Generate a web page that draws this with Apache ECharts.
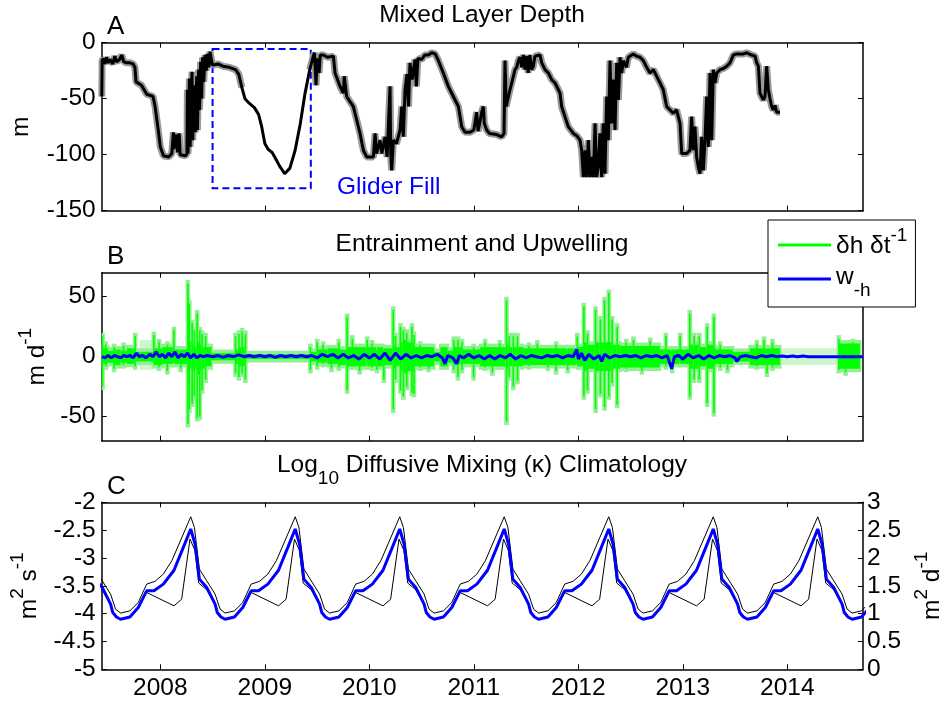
<!DOCTYPE html>
<html><head><meta charset="utf-8">
<script src="https://cdn.jsdelivr.net/npm/echarts@6/dist/echarts.min.js"></script>
<style>html,body{margin:0;padding:0;background:#fff}#c{width:940px;height:702px}</style>
</head><body><div id="c"></div>
<script>
// ---------- shared x axis (decimal years) ----------
const xMin = 2007.439, xMax = 2014.724;
const yearTicks = [2008, 2009, 2010, 2011, 2012, 2013, 2014];

// ---------- Panel A: mixed layer depth (m) ----------
const mldT = [2007.44,2007.443,2007.455,2007.47,2007.485,2007.50,2007.52,2007.545,2007.565,2007.58,2007.61,2007.63,2007.65,2007.68,2007.71,2007.74,2007.757,2007.768,2007.82,2007.87,2007.93,2007.95,2007.98,2008.0,2008.03,2008.08,2008.11,2008.125,2008.13,2008.155,2008.165,2008.18,2008.19,2008.24,2008.255,2008.259,2008.265,2008.278,2008.285,2008.303,2008.31,2008.326,2008.335,2008.348,2008.355,2008.367,2008.375,2008.386,2008.395,2008.405,2008.415,2008.428,2008.44,2008.45,2008.465,2008.476,2008.49,2008.50,2008.55,2008.60,2008.66,2008.72,2008.75,2008.78,2008.81,2008.85,2008.90,2008.94,2008.97,2009.0,2009.03,2009.07,2009.10,2009.14,2009.19,2009.24,2009.29,2009.34,2009.385,2009.43,2009.464,2009.475,2009.49,2009.50,2009.519,2009.53,2009.56,2009.60,2009.656,2009.672,2009.69,2009.72,2009.751,2009.76,2009.783,2009.81,2009.847,2009.879,2009.911,2009.943,2009.975,2010.039,2010.055,2010.07,2010.102,2010.12,2010.15,2010.17,2010.198,2010.205,2010.214,2010.23,2010.26,2010.294,2010.31,2010.325,2010.342,2010.36,2010.375,2010.389,2010.41,2010.437,2010.45,2010.465,2010.501,2010.53,2010.565,2010.597,2010.63,2010.661,2010.708,2010.756,2010.804,2010.852,2010.884,2010.916,2010.964,2011.0,2011.027,2011.04,2011.06,2011.075,2011.091,2011.10,2011.123,2011.15,2011.218,2011.266,2011.289,2011.298,2011.31,2011.346,2011.362,2011.378,2011.394,2011.41,2011.426,2011.442,2011.458,2011.474,2011.49,2011.506,2011.52,2011.537,2011.553,2011.569,2011.585,2011.601,2011.633,2011.65,2011.681,2011.713,2011.745,2011.777,2011.809,2011.825,2011.84,2011.872,2011.904,2011.952,2011.984,2012.016,2012.032,2012.048,2012.064,2012.08,2012.096,2012.112,2012.128,2012.144,2012.16,2012.175,2012.19,2012.207,2012.223,2012.239,2012.255,2012.271,2012.287,2012.303,2012.319,2012.335,2012.351,2012.367,2012.383,2012.399,2012.415,2012.431,2012.46,2012.478,2012.494,2012.526,2012.558,2012.59,2012.622,2012.654,2012.686,2012.718,2012.75,2012.782,2012.813,2012.845,2012.877,2012.909,2012.94,2012.973,2012.989,2013.037,2013.068,2013.084,2013.1,2013.116,2013.132,2013.148,2013.164,2013.18,2013.196,2013.212,2013.228,2013.244,2013.26,2013.276,2013.292,2013.308,2013.324,2013.356,2013.388,2013.42,2013.451,2013.483,2013.515,2013.579,2013.611,2013.659,2013.691,2013.707,2013.723,2013.738,2013.754,2013.77,2013.786,2013.802,2013.818,2013.834,2013.85,2013.866,2013.882,2013.898,2013.914,2013.93];
const mldV = [-48,-16,-14,-19,-13,-18,-15,-19,-12,-17,-15,-11,-17,-18,-18,-19,-22,-35,-38,-46,-48,-57,-78,-93,-101,-102,-99,-80,-95,-82,-98,-81,-100,-101,-99,-42,-99,-32,-93,-26,-87,-38,-80,-30,-78,-24,-60,-17,-50,-13,-35,-11,-25,-10,-22,-8,-16,-20,-19,-21,-22,-24,-28,-40,-50,-54,-58,-64,-75,-90,-95,-98,-103,-110,-117,-112,-96,-72,-45,-24,-12,-9,-38,-14,-27,-11,-11,-13,-12,-27,-27,-39,-45,-30,-48,-52,-57,-69,-81,-96,-102,-102,-81,-99,-87,-99,-84,-102,-39,-100,-114,-87,-90,-78,-57,-84,-42,-28,-57,-18,-33,-15,-39,-14,-15,-11,-11,-9,-10,-16,-27,-39,-48,-57,-75,-80,-80,-78,-62,-79,-70,-62,-57,-72,-78,-81,-82,-84,-81,-16,-57,-42,-36,-30,-24,-22,-16,-13,-22,-11,-24,-12,-27,-11,-24,-21,-12,-11,-11,-18,-24,-27,-33,-36,-42,-45,-57,-66,-75,-81,-83,-87,-96,-120,-96,-120,-87,-120,-102,-120,-72,-120,-111,-81,-120,-72,-117,-48,-87,-16,-72,-33,-78,-18,-51,-13,-27,-16,-22,-13,-12,-10,-12,-13,-16,-22,-27,-24,-30,-36,-42,-57,-60,-63,-60,-72,-99,-99,-96,-66,-96,-75,-102,-111,-117,-84,-114,-87,-48,-93,-27,-87,-24,-36,-27,-24,-23,-21,-18,-11,-10,-10,-9,-11,-12,-18,-21,-45,-48,-51,-48,-21,-42,-50,-57,-60,-56,-62,-62,-62];
const noEnvelopeStart = 2008.78, noEnvelopeEnd = 2009.43;   // glider-filled stretch (no uncertainty band)
const gliderBox = {x0: 2008.50, x1: 2009.44, yTop: -5.6, yBottom: -130};
const gliderLabel = {x: 2009.69, y: -129, text: 'Glider Fill'};

// ---------- Panel B: entrainment (green bars) and upwelling (blue line), m/d ----------
const bT  = [2007.439,2007.452,2007.50,2007.56,2007.62,2007.68,2007.752,2007.762,2007.93,2007.94,2008.02,2008.123,2008.13,2008.187,2008.195,2008.256,2008.263,2008.27,2008.28,2008.297,2008.305,2008.318,2008.326,2008.345,2008.352,2008.37,2008.377,2008.392,2008.40,2008.425,2008.433,2008.49,2008.712,2008.72,2008.744,2008.752,2008.775,2008.783,2008.806,2008.815,2009.428,2009.436,2009.494,2009.502,2009.60,2009.70,2009.78,2009.788,2009.972,2009.98,2010.066,2010.074,2010.131,2010.139,2010.221,2010.228,2010.243,2010.25,2010.29,2010.298,2010.318,2010.326,2010.35,2010.358,2010.40,2010.408,2010.42,2010.428,2010.62,2010.68,2010.75,2010.80,2010.808,2010.84,2010.848,2010.88,2010.888,2010.99,2010.998,2011.06,2011.305,2011.312,2011.33,2011.338,2011.37,2011.378,2011.41,2011.418,2011.47,2011.89,2011.90,2011.982,2011.99,2012.045,2012.052,2012.08,2012.088,2012.157,2012.164,2012.204,2012.211,2012.243,2012.25,2012.284,2012.291,2012.316,2012.323,2012.364,2012.371,2012.40,2012.78,2012.83,2012.838,2012.89,2012.898,2012.967,2012.975,2013.059,2013.066,2013.10,2013.108,2013.15,2013.158,2013.225,2013.232,2013.289,2013.296,2013.30,2013.48,2013.64,2013.797,2013.805,2013.93,2014.485,2014.493];
const bLo = [-25,-6,-5,-7,-5,-6,-8,-4,-6,-7,-6,-5,-6,-10,-6,-56,-20,-44,-10,-39,-12,-33,-10,-51,-15,-50,-12,-28,-10,-19,-8,-3,-14,-6,-17,-8,-14,-8,-19,-2,-11,-4,-8,-5,-6,-7,-28,-8,-5,-8,-11,-8,-19,-7,-44,-10,-19,-8,-28,-12,-33,-14,-25,-12,-30,-12,-31,-8,-4,-8,-5,-11,-6,-17,-6,-11,-6,-17,-6,-8,-54,-10,-17,-8,-25,-8,-20,-8,-7,-11,-7,-6,-8,-33,-12,-28,-10,-44,-12,-31,-12,-42,-12,-33,-12,-22,-10,-40,-10,-9,-6,-8,-6,-11,-6,-5,-6,-33,-10,-19,-10,-19,-8,-39,-10,-47,-8,-6,-4,-7,-14,-7,null,-11,-10];
const bHi = [17,7,5,6,5,7,17,4,18,7,8,22,6,5,6,61,45,44,12,28,10,22,8,36,12,22,10,19,8,17,8,3,17,6,19,8,21,8,19,2,8,4,12,6,7,6,33,8,14,8,5,8,6,7,39,10,17,8,25,12,22,14,20,12,25,12,18,8,4,8,5,14,8,14,8,12,6,8,6,8,47,10,17,8,17,8,17,8,7,6,7,17,8,42,12,19,10,39,12,31,12,47,12,53,12,31,10,25,10,9,6,17,6,5,6,17,6,36,10,17,10,17,8,25,10,33,8,6,4,7,6,7,null,15,11];
const bEnd = 2014.695;
// additional short spikes inside the quieter stretches
const spikeT  = [2007.47,2007.55,2007.64,2007.98,2008.06,2009.55,2009.63,2009.70,2009.83,2009.90,2010.02,2010.48,2010.56,2011.10,2011.17,2011.24,2011.52,2011.60,2011.70,2011.78,2012.45,2012.52,2012.60,2012.68,2013.35,2013.42,2013.70,2013.77,2013.85,2014.55,2014.62];
const spikeLo = [-8,-10,-7,-9,-12,-6,-10,-9,-8,-12,-9,-9,-10,-9,-13,-6,-8,-6,-9,-12,-10,-8,-12,-9,-9,-11,-8,-6,-9,-13,-9];
const spikeHi = [10,8,9,12,10,10,6,12,15,7,11,10,8,12,7,11,9,11,6,10,12,14,7,13,10,6,11,14,12,8,12];
const spikeW = 0.005;
const envT0 = [2007.80, 2013.93], envT1 = [2007.93, 2014.485], envLo = [-11, -7], envHi = [14, 7];
const wT = [2007.44,2007.47,2007.50,2007.53,2007.56,2007.59,2007.62,2007.65,2007.68,2007.71,2007.74,2007.77,2007.80,2007.83,2007.86,2007.90,2007.93,2007.96,2007.99,2008.02,2008.05,2008.08,2008.11,2008.14,2008.17,2008.20,2008.23,2008.26,2008.29,2008.32,2008.35,2008.38,2008.41,2008.45,2008.50,2008.55,2008.60,2008.65,2008.70,2008.75,2008.80,2008.85,2008.90,2008.95,2009.00,2009.05,2009.10,2009.15,2009.20,2009.25,2009.30,2009.35,2009.40,2009.45,2009.50,2009.55,2009.60,2009.65,2009.70,2009.75,2009.80,2009.85,2009.90,2009.95,2010.00,2010.05,2010.10,2010.15,2010.20,2010.25,2010.30,2010.35,2010.40,2010.45,2010.50,2010.55,2010.60,2010.65,2010.70,2010.725,2010.75,2010.80,2010.836,2010.86,2010.90,2010.95,2011.00,2011.05,2011.10,2011.15,2011.20,2011.25,2011.30,2011.35,2011.40,2011.45,2011.50,2011.55,2011.60,2011.65,2011.70,2011.75,2011.80,2011.85,2011.90,2011.95,2011.985,2012.00,2012.03,2012.06,2012.10,2012.15,2012.20,2012.223,2012.25,2012.30,2012.35,2012.40,2012.45,2012.50,2012.55,2012.60,2012.65,2012.70,2012.75,2012.80,2012.85,2012.893,2012.92,2012.96,2013.00,2013.05,2013.10,2013.15,2013.20,2013.25,2013.30,2013.35,2013.40,2013.45,2013.50,2013.515,2013.55,2013.60,2013.65,2013.70,2013.75,2013.80,2013.85,2013.90,2013.95,2014.00,2014.05,2014.10,2014.15,2014.20,2014.724];
const wV = [0,-1,1,-1,1,0,-1,1,0,1,-1,3,0,1,-1,2,0,4,0,2,-1,3,0,4,-1,2,0,3,-1,2,-1,1,0,1,0,1,-0.5,1,0,1.5,0,1,0,1,0,1,-0.5,1,0,1,0,1,0,1,-1,2,0,2,-1,2,-1,1,-2,2,-1,2,-2,3,-3,3,-2,2,-1,1,-1,1,0,2,-1,-6,1,-1,-6,1,-1,2,-1,1,-2,1,-2,1,-1,2,-2,1,-1,1,0,-1,1,0,1,-1,1,0,6,-2,3,-3,2,-2,1,-4,2,-1,1,0,1,0,1,-1,1,0,1,-1,1,-10,0,1,-2,2,-1,1,-2,1,-1,1,0,1,-1,-4,0,1,0,-1,1,0,1,0,0.5,0,0.5,0,0.5,0,0];

// ---------- Panel C: log10 diffusivity climatology (one annual cycle, repeated each year) ----------
const climYears = [2007, 2008, 2009, 2010, 2011, 2012, 2013, 2014];
const kBluePhase  = [0.029,0.131,0.220,0.291,0.332,0.374,0.444,0.524,0.545,0.580,0.620,0.709,0.789,0.869,0.939];
const kBlue       = [-3.47,-3.22,-2.81,-2.48,-2.75,-3.38,-3.53,-3.83,-3.98,-4.06,-4.10,-4.06,-3.89,-3.59,-3.59];
const kUpperPhase = [0.029,0.110,0.220,0.291,0.326,0.374,0.444,0.524,0.572,0.620,0.709,0.789,0.869,0.949];
const kUpper      = [-3.29,-3.05,-2.57,-2.26,-2.45,-3.20,-3.41,-3.65,-3.92,-3.99,-3.95,-3.80,-3.47,-3.42];
const kLowerPhase = [0.131,0.204,0.284,0.332,0.367,0.444,0.524,0.545,0.580,0.620,0.709,0.789,0.869];
const kLower      = [-3.86,-3.74,-2.66,-2.87,-3.45,-3.57,-3.83,-3.98,-4.06,-4.10,-4.06,-3.89,-3.62];

// ---------- build series data ----------
const mldLine = mldT.map((t, i) => [t, mldV[i]]);
const mldEnvelope = mldT.map((t, i) => (t > noEnvelopeStart && t < noEnvelopeEnd) ? [t, null] : [t, mldV[i]]);
const greenItems = [];
for (let i = 0; i < bT.length; i++) {
  if (bLo[i] === null) continue;
  const t1 = i + 1 < bT.length ? bT[i + 1] : bEnd;
  greenItems.push([bT[i], t1, bLo[i], bHi[i]]);
}
spikeT.forEach((t, i) => greenItems.push([t, t + spikeW, spikeLo[i], spikeHi[i]]));
const envItems = envT0.map((t, i) => [t, envT1[i], envLo[i], envHi[i]]);
const wLine = wT.map((t, i) => [t, wV[i]]);
function tile(phase, vals) {
  const out = [];
  climYears.forEach(y => phase.forEach((p, i) => out.push([y + p, vals[i]])));
  return out;
}

const FONT = 'Liberation Sans, Arial, Helvetica, sans-serif';
const FS = 24.5;
const grids = [
  {left: 101.7, top: 42.7, width: 761.3, height: 168},
  {left: 101.7, top: 272.7, width: 761.3, height: 168},
  {left: 101.7, top: 502.3, width: 761.3, height: 167}
];
const lineCol = '#000';
function baseAxis(extra) {
  return Object.assign({
    axisLine: {show: true, onZero: false, lineStyle: {color: lineCol, width: 1.5}},
    splitLine: {show: false},
    nameTextStyle: {color: '#000', fontFamily: FONT, fontSize: FS},
  }, extra);
}
const xAxes = [], yAxes = [];
for (let g = 0; g < 3; g++) {
  xAxes.push(baseAxis({type: 'value', gridIndex: g, position: 'bottom', min: xMin, max: xMax,
    axisTick: {show: true, inside: true, length: 5, customValues: yearTicks, lineStyle: {color: lineCol, width: 1}},
    axisLabel: {show: g === 2, customValues: yearTicks, margin: 6, color: '#000', fontFamily: FONT, fontSize: FS,
      formatter: v => String(Math.round(v))}}));
  xAxes.push(baseAxis({type: 'value', gridIndex: g, position: 'top', min: xMin, max: xMax,
    axisTick: {show: true, inside: true, length: 5, customValues: yearTicks, lineStyle: {color: lineCol, width: 1}},
    axisLabel: {show: false}}));
}
const supRich = {
  n: {fontFamily: FONT, fontSize: FS, color: '#000', lineHeight: 28, verticalAlign: 'bottom'},
  sup: {fontFamily: FONT, fontSize: 19, color: '#000', lineHeight: 19, padding: [0, 0, 14, 0], verticalAlign: 'bottom'}
};
const yDefs = [
  {min: -150, max: 0, interval: 50, name: 'm', gap: 68},
  {min: -70, max: 70, ticks: [-50, 0, 50], name: '{n|m d}{sup|-1}', gap: 52},
  {min: -5, max: -2, interval: 0.5, name: '{n|m}{sup|2}{n| s}{sup|-1}', gap: 60}
];
yDefs.forEach((d, g) => {
  const tick = {show: true, inside: true, length: 5, lineStyle: {color: lineCol, width: 1}};
  const lab = {show: true, margin: 6, color: '#000', fontFamily: FONT, fontSize: FS};
  if (d.ticks) { tick.customValues = d.ticks; lab.customValues = d.ticks; }
  yAxes.push(baseAxis({type: 'value', gridIndex: g, position: 'left', min: d.min, max: d.max, interval: d.interval,
    axisTick: tick, axisLabel: lab, name: d.name, nameLocation: 'middle', nameGap: d.gap, nameRotate: 90,
    nameTextStyle: {color: '#000', fontFamily: FONT, fontSize: FS, rich: supRich}}));
  if (g < 2) {
    const tick2 = Object.assign({}, tick);
    yAxes.push(baseAxis({type: 'value', gridIndex: g, position: 'right', min: d.min, max: d.max, interval: d.interval,
      axisTick: tick2, axisLabel: {show: false}}));
  } else {
    yAxes.push(baseAxis({type: 'value', gridIndex: g, position: 'right', min: 0, max: 3, interval: 0.5,
      axisTick: tick, axisLabel: {show: true, margin: 4, color: '#000', fontFamily: FONT, fontSize: FS},
      name: '{n|m}{sup|2}{n| d}{sup|-1}', nameLocation: 'middle', nameGap: 48, nameRotate: 90,
      nameTextStyle: {color: '#000', fontFamily: FONT, fontSize: FS, rich: supRich}}));
  }
});

function barRender(expandX, expandY, color) {
  return function (params, api) {
    const t0 = api.value(0), t1 = api.value(1), lo = api.value(2), hi = api.value(3);
    const p0 = api.coord([t0, hi]), p1 = api.coord([t1, lo]);
    const w = Math.max(p1[0] - p0[0], 1.6);
    const rect = {x: p0[0] - expandX, y: p0[1] - expandY, width: w + 2 * expandX, height: (p1[1] - p0[1]) + 2 * expandY};
    const cs = params.coordSys;
    const c = echarts.graphic.clipRectByRect(rect, {x: cs.x, y: cs.y, width: cs.width, height: cs.height});
    return c && {type: 'rect', shape: c, style: {fill: color}};
  };
}

const titleStyle = {fontFamily: FONT, fontSize: FS, fontWeight: 'normal', color: '#000'};
const option = {
  animation: false,
  backgroundColor: '#fff',
  title: [
    {text: 'Mixed Layer Depth', left: 482, top: 3, textAlign: 'center', padding: 0, textStyle: titleStyle},
    {text: 'Entrainment and Upwelling', left: 482, top: 232, textAlign: 'center', padding: 0, textStyle: titleStyle},
    {text: '{n|Log}{sub|10}{n| Diffusive Mixing (κ) Climatology}', left: 482, top: 453, textAlign: 'center', padding: 0,
      textStyle: Object.assign({}, titleStyle, {rich: {
        n: {fontFamily: FONT, fontSize: FS, color: '#000', lineHeight: 28, verticalAlign: 'top'},
        sub: {fontFamily: FONT, fontSize: 19, color: '#000', lineHeight: 19, padding: [16, 0, 0, 0], verticalAlign: 'top'}}})},
    {text: 'A', left: 107, top: 14, padding: 0, textStyle: Object.assign({}, titleStyle, {fontSize: 26})},
    {text: 'B', left: 107, top: 244, padding: 0, textStyle: Object.assign({}, titleStyle, {fontSize: 26})},
    {text: 'C', left: 107, top: 474, padding: 0, textStyle: Object.assign({}, titleStyle, {fontSize: 26})}
  ],
  legend: {
    show: true, orient: 'vertical', left: 768, top: 220, z: 20,
    padding: [6, 8, 7, 10], itemGap: 6, itemWidth: 53, itemHeight: 3,
    backgroundColor: '#fff', borderColor: '#000', borderWidth: 1, borderRadius: 0,
    data: [{name: 'dhdt', icon: 'rect'}, {name: 'w', icon: 'rect'}],
    formatter: n => n === 'dhdt' ? '{n|δh δt}{sup|-1}' : '{m|w}{sub|-h}',
    textStyle: {fontFamily: FONT, fontSize: FS, color: '#000', rich: {
      n: {fontFamily: FONT, fontSize: FS, color: '#000', lineHeight: 28, verticalAlign: 'bottom'},
      sup: {fontFamily: FONT, fontSize: 19, color: '#000', lineHeight: 19, padding: [0, 0, 14, 0], verticalAlign: 'bottom'},
      m: {fontFamily: FONT, fontSize: FS, color: '#000', lineHeight: 28, verticalAlign: 'top'},
      sub: {fontFamily: FONT, fontSize: 19, color: '#000', lineHeight: 19, padding: [16, 0, 0, 0], verticalAlign: 'top'}
    }}
  },
  grid: grids.map(g => Object.assign({outerBoundsMode: 'none', containLabel: false}, g)),
  xAxis: xAxes,
  yAxis: yAxes,
  series: [
    {type: 'line', name: 'mldEnv', xAxisIndex: 0, yAxisIndex: 0, data: mldEnvelope, showSymbol: false, connectNulls: false,
      lineStyle: {color: '#9a9a9a', width: 7}, z: 2, silent: true},
    {type: 'line', name: 'mld', xAxisIndex: 0, yAxisIndex: 0, data: mldLine, showSymbol: false,
      lineStyle: {color: '#000', width: 3}, z: 3,
      markArea: {silent: true, itemStyle: {color: 'rgba(0,0,0,0)', borderColor: '#0000FF', borderWidth: 2, borderType: [7, 4]},
        data: [[{coord: [gliderBox.x0, gliderBox.yTop]}, {coord: [gliderBox.x1, gliderBox.yBottom]}]]},
      markPoint: {silent: true, symbol: 'circle', symbolSize: 0,
        data: [{coord: [gliderLabel.x, gliderLabel.y], label: {show: true, position: 'right', distance: 0, formatter: gliderLabel.text,
          color: '#0000FF', fontFamily: FONT, fontSize: FS}}]}},
    {type: 'custom', name: 'env', xAxisIndex: 2, yAxisIndex: 2, data: envItems, renderItem: barRender(0, 0, '#cdf6cd'),
      encode: {x: [0, 1], y: [2, 3]}, z: 1, silent: true},
    {type: 'custom', name: 'halo', xAxisIndex: 2, yAxisIndex: 2, data: greenItems, renderItem: barRender(1.5, 3.5, '#93ef93'),
      encode: {x: [0, 1], y: [2, 3]}, z: 2, silent: true},
    {type: 'custom', name: 'dhdt', xAxisIndex: 2, yAxisIndex: 2, data: greenItems, renderItem: barRender(0, 0, '#00ff00'),
      encode: {x: [0, 1], y: [2, 3]}, itemStyle: {color: '#00ff00'}, z: 3},
    {type: 'line', name: 'w', xAxisIndex: 2, yAxisIndex: 2, data: wLine, showSymbol: false,
      lineStyle: {color: '#0000ff', width: 3}, itemStyle: {color: '#0000ff'}, z: 4},
    {type: 'line', name: 'kUpper', xAxisIndex: 4, yAxisIndex: 4, data: tile(kUpperPhase, kUpper), showSymbol: false,
      lineStyle: {color: '#000', width: 1}, z: 2},
    {type: 'line', name: 'kLower', xAxisIndex: 4, yAxisIndex: 4, data: tile(kLowerPhase, kLower), showSymbol: false,
      lineStyle: {color: '#000', width: 1}, z: 2},
    {type: 'line', name: 'kBlue', xAxisIndex: 4, yAxisIndex: 4, data: tile(kBluePhase, kBlue), showSymbol: false,
      lineStyle: {color: '#0000ff', width: 3}, z: 3}
  ]
};
const chart = echarts.init(document.getElementById('c'), null, {renderer: 'canvas'});
chart.setOption(option);
</script></body></html>
